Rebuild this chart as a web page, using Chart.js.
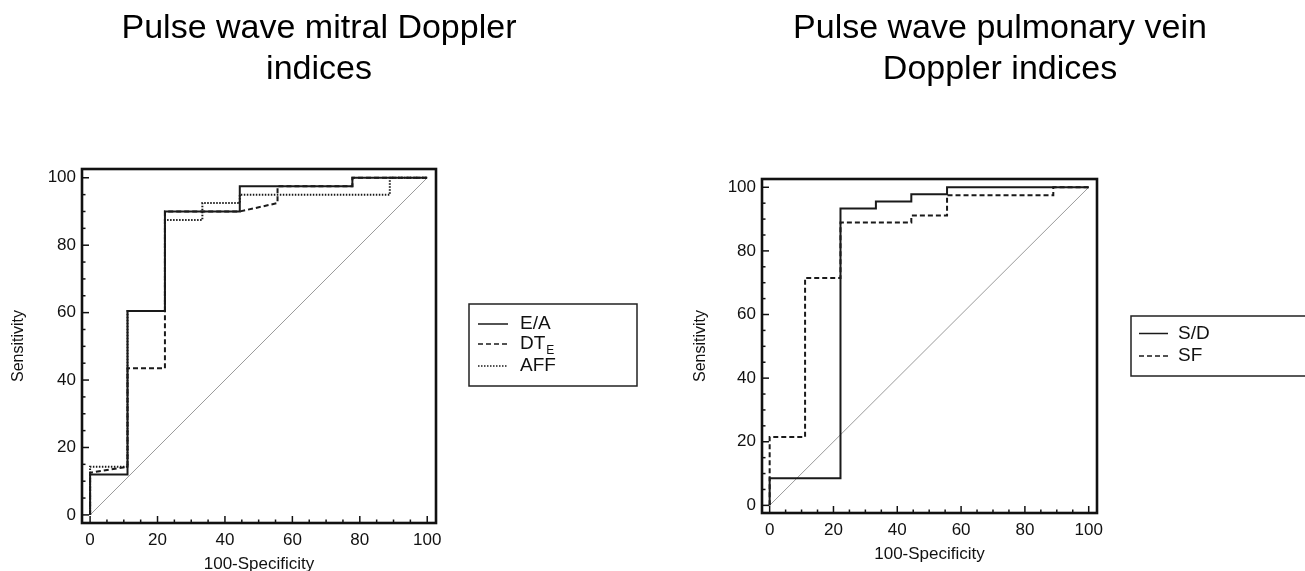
<!DOCTYPE html>
<html><head><meta charset="utf-8">
<script src="https://cdn.jsdelivr.net/npm/chart.js@4.4.0/dist/chart.umd.min.js"></script>
<style>
html,body{margin:0;padding:0;background:#fff;width:1305px;height:571px;overflow:hidden;position:relative;}
canvas{position:absolute;top:0;}
#c1{left:0;}
#c2{left:689px;}
</style></head><body>
<canvas id="c1" width="638" height="571"></canvas>
<canvas id="c2" width="622" height="571"></canvas>
<script>
// ---------- data ----------
const axisTicks = [0, 20, 40, 60, 80, 100];
const minorTicks = [0, 5, 10, 15, 20, 25, 30, 35, 40, 45, 50, 55, 60, 65, 70, 75, 80, 85, 90, 95, 100];
const diagX = [0, 100];
const diagY = [0, 100];

const titleLeft = ['Pulse wave mitral Doppler', 'indices'];
const titleRight = ['Pulse wave pulmonary vein', 'Doppler indices'];
const xTitle = '100-Specificity';
const yTitle = 'Sensitivity';

// Mitral indices
const eaX = [0, 0, 11.1, 11.1, 22.2, 22.2, 44.4, 44.4, 77.8, 77.8, 100];
const eaY = [0, 12, 12, 60.5, 60.5, 90, 90, 97.5, 97.5, 100, 100];
const dtX = [0, 0, 11.1, 11.1, 22.2, 22.2, 44.4, 55.6, 55.6, 77.8, 77.8, 100];
const dtY = [0, 12.5, 14.3, 43.5, 43.5, 90, 90, 92.5, 97.5, 97.5, 100, 100];
const affX = [0, 0, 11.1, 11.1, 22.2, 22.2, 33.3, 33.3, 44.4, 44.4, 88.9, 88.9, 100];
const affY = [0, 14.3, 14.3, 60.5, 60.5, 87.5, 87.5, 92.5, 92.5, 95, 95, 100, 100];

// Pulmonary vein indices
const sdX = [0, 0, 22.2, 22.2, 33.3, 33.3, 44.4, 44.4, 55.6, 55.6, 100];
const sdY = [0, 8.5, 8.5, 93.3, 93.3, 95.5, 95.5, 97.8, 97.8, 100, 100];
const sfX = [0, 0, 11.1, 11.1, 22.2, 22.2, 44.4, 44.4, 55.6, 55.6, 88.9, 88.9, 100];
const sfY = [0, 21.5, 21.5, 71.5, 71.5, 88.9, 88.9, 91.1, 91.1, 97.5, 97.5, 100, 100];

// ---------- helpers ----------
const FONT = "'Liberation Sans', Arial, Helvetica, sans-serif";
Chart.defaults.font.family = FONT;
Chart.defaults.color = '#111';

const pts = (xs, ys) => xs.map((x, i) => ({x: x, y: ys[i]}));

function lineDs(label, xs, ys, dash, width, color) {
  return {
    label: label, data: pts(xs, ys), showLine: true, pointRadius: 0, pointHoverRadius: 0,
    borderColor: color || '#1a1a1a', borderWidth: width || 2, borderDash: dash || [],
    fill: false, tension: 0, stepped: false
  };
}

const rocFrame = {
  id: 'rocFrame',
  afterDatasetsDraw(chart) {
    const {ctx, chartArea: a, scales: {x, y}} = chart;
    ctx.save();
    ctx.strokeStyle = '#111';
    ctx.lineWidth = 1.5;
    ctx.setLineDash([]);
    minorTicks.forEach(v => {
      const len = axisTicks.includes(v) ? 7 : 3.5;
      const px = x.getPixelForValue(v);
      ctx.beginPath(); ctx.moveTo(px, a.bottom); ctx.lineTo(px, a.bottom - len); ctx.stroke();
      const py = y.getPixelForValue(v);
      ctx.beginPath(); ctx.moveTo(a.left, py); ctx.lineTo(a.left + len, py); ctx.stroke();
    });
    ctx.lineWidth = 2.6;
    ctx.strokeRect(a.left, a.top, a.right - a.left, a.bottom - a.top);
    ctx.restore();
  }
};

const rocLegend = {
  id: 'rocLegend',
  afterDraw(chart, args, o) {
    const ctx = chart.ctx;
    ctx.save();
    ctx.lineWidth = 1.5; ctx.strokeStyle = '#222'; ctx.setLineDash([]);
    ctx.strokeRect(o.x, o.y, o.w, o.h);
    const items = chart.data.datasets.filter(d => d.label);
    items.forEach((d, i) => {
      const y = o.rows[i];
      ctx.beginPath();
      ctx.setLineDash(d.borderDash || []);
      ctx.lineWidth = 1.5; ctx.strokeStyle = d.borderColor;
      ctx.moveTo(o.sx0, y); ctx.lineTo(o.sx1, y); ctx.stroke();
      ctx.setLineDash([]);
      const parts = d.label.split('_');
      ctx.font = o.size + 'px ' + FONT;
      ctx.fillStyle = '#111'; ctx.textBaseline = 'middle'; ctx.textAlign = 'left';
      ctx.fillText(parts[0], o.tx, y);
      if (parts[1]) {
        const w = ctx.measureText(parts[0]).width;
        ctx.font = o.subSize + 'px ' + FONT;
        ctx.fillText(parts[1], o.tx + w + 1, y + o.subDy);
      }
    });
    ctx.restore();
  }
};

function makeChart(id, cfg) {
  return new Chart(document.getElementById(id), {
    type: 'scatter',
    data: {datasets: cfg.datasets},
    plugins: [rocFrame, rocLegend],
    options: {
      responsive: false, animation: false, devicePixelRatio: 1,
      layout: {padding: 0},
      plugins: {
        legend: {display: false},
        tooltip: {enabled: false},
        title: {
          display: true, text: cfg.title, color: '#000',
          font: {size: 34, weight: 'normal', lineHeight: 1.206},
          padding: {top: 8.4, bottom: cfg.titleBottom}
        },
        rocLegend: cfg.legend
      },
      scales: {
        x: {
          type: 'linear', min: -2.4, max: 102.6,
          afterBuildTicks: s => { s.ticks = axisTicks.map(v => ({value: v})); },
          afterFit: s => { s.height = cfg.xHeight; },
          grid: {display: false, drawTicks: false},
          border: {display: false},
          ticks: {padding: 7, font: {size: 17}, color: '#111', maxRotation: 0, autoSkip: false},
          title: {display: true, text: xTitle, color: '#111', font: {size: 17}, padding: {top: 0, bottom: cfg.xTitleBottom}}
        },
        y: {
          type: 'linear', min: -2.4, max: 102.6,
          afterBuildTicks: s => { s.ticks = axisTicks.map(v => ({value: v})); },
          afterFit: s => { s.width = cfg.yWidth; },
          grid: {display: false, drawTicks: false},
          border: {display: false},
          ticks: {padding: 6, font: {size: 17}, color: '#111', autoSkip: false},
          title: {display: true, text: yTitle, color: '#111', font: {size: 16}, padding: {top: cfg.yTitleTop, bottom: 0}}
        },
        yLegendSpace: {
          type: 'linear', position: 'right', display: true, min: -2.4, max: 102.6,
          afterFit: s => { s.width = cfg.padRight; },
          ticks: {display: false},
          grid: {display: false, drawTicks: false},
          border: {display: false}
        }
      }
    }
  });
}

makeChart('c1', {
  title: titleLeft,
  titleBottom: 78.6,
  padRight: 202,
  xHeight: 48,
  yWidth: 82,
  xTitleBottom: -4,
  yTitleTop: 9,
  datasets: [
    lineDs('E/A', eaX, eaY, [], 2),
    lineDs('DT_E', dtX, dtY, [5, 3], 2),
    lineDs('AFF', affX, affY, [1.5, 1.5], 2),
    lineDs('', diagX, diagY, [], 1, '#9a9a9a')
  ],
  legend: {x: 469, y: 304, w: 168, h: 82, sx0: 478, sx1: 508, tx: 520, rows: [324, 344, 366], size: 19, subSize: 12, subDy: 7}
});

makeChart('c2', {
  title: titleRight,
  titleBottom: 88.6,
  padRight: 214,
  xHeight: 58,
  yWidth: 73,
  xTitleBottom: 6.8,
  yTitleTop: 2.4,
  datasets: [
    lineDs('S/D', sdX, sdY, [], 2),
    lineDs('SF', sfX, sfY, [5, 3], 2),
    lineDs('', diagX, diagY, [], 1, '#9a9a9a')
  ],
  legend: {x: 442, y: 316, w: 200, h: 60, sx0: 450, sx1: 479, tx: 489, rows: [333.5, 356], size: 19, subSize: 12, subDy: 7}
});
</script>
</body></html>
